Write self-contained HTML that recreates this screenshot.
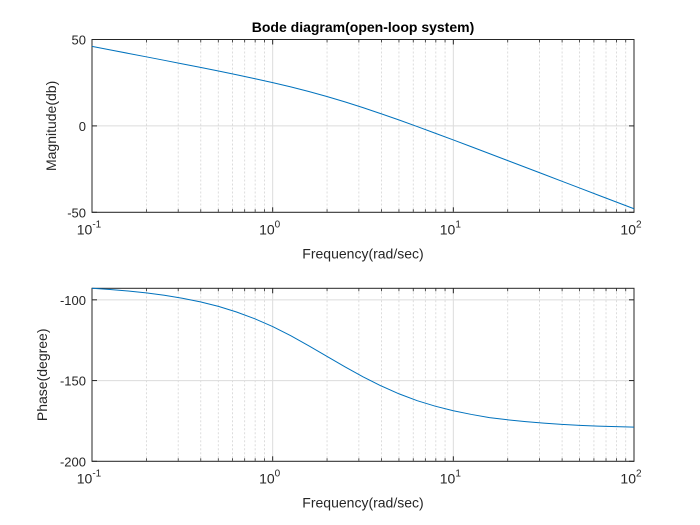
<!DOCTYPE html>
<html><head><meta charset="utf-8"><style>
body{margin:0;background:#fff;width:700px;height:525px;overflow:hidden}
svg{display:block;font-family:"Liberation Sans",Arial,sans-serif}
</style></head><body>
<svg id="c" width="700" height="525"></svg>
<script>
const freqs=[0.1,0.1259,0.1585,0.1995,0.2512,0.3162,0.3981,0.5012,0.631,0.7943,1,1.259,1.585,1.995,2.512,3.162,3.981,5.012,6.31,7.943,10,12.59,15.85,19.95,25.12,31.62,39.81,50.12,63.1,79.43,100];
const magDb=[46.01,44.00,41.99,39.98,37.95,35.91,33.85,31.75,29.61,27.38,25.05,22.57,19.90,17.01,13.89,10.58,7.05,3.40,-0.39,-4.25,-8.13,-12.07,-16.05,-20.02,-24.01,-27.98,-31.99,-35.99,-39.98,-43.98,-47.96];
const phaseDeg=[-92.86,-93.61,-94.53,-95.71,-97.16,-98.99,-101.25,-104.06,-107.55,-111.66,-116.57,-122.2,-128.45,-135,-141.5,-147.68,-153.3,-158.26,-162.45,-165.87,-168.69,-170.98,-172.93,-174.29,-175.45,-176.38,-177.12,-177.72,-178.19,-178.56,-178.85];
const magTicks=[50,0,-50];
const phaseTicks=[-100,-150,-200];
const xTickExp=[-1,0,1,2];

const svg=document.getElementById('c');
const NS='http://www.w3.org/2000/svg';
function el(t,a,p){const e=document.createElementNS(NS,t);for(const k in a)e.setAttribute(k,a[k]);(p||svg).appendChild(e);return e;}
const L=92,R=634;
const xs=w=>L+(Math.log10(w)+1)/3*(R-L);

function panel(name,top,bot,ymin,ymax,yt,data,ylabel){
  const g=el('g',{});
  
  
  const ys=v=>bot-(v-ymin)/(ymax-ymin)*(bot-top);
  for(let d=-1;d<2;d++)for(let m=2;m<10;m++){
    const x=xs(m*Math.pow(10,d));
    const ln=el('line',{x1:x,x2:x,y1:top,y2:bot,stroke:'#d4d4d4','stroke-width':0.8,'stroke-dasharray':'2,2'},g);
    
    
    el('line',{x1:x,x2:x,y1:bot,y2:bot-3,stroke:'#262626','stroke-width':0.8},g);
    el('line',{x1:x,x2:x,y1:top,y2:top+3,stroke:'#262626','stroke-width':0.8},g);
  }
  xTickExp.forEach(e=>{
    const x=xs(Math.pow(10,e));
    const ln=el('line',{x1:x,x2:x,y1:top,y2:bot,stroke:'#dcdcdc','stroke-width':1},g);
    
    
    el('line',{x1:x,x2:x,y1:bot,y2:bot-5,stroke:'#262626'},g);
    el('line',{x1:x,x2:x,y1:top,y2:top+5,stroke:'#262626'},g);
    const t=el('text',{x:x-3,y:bot+22,'font-size':14,fill:'#262626','text-anchor':'middle'},g);
    
    
    t.textContent='10';
    const s=el('tspan',{dy:-7,'font-size':10},t);s.textContent=String(e);
  });
  yt.forEach(v=>{
    const y=ys(v);
    el('line',{x1:L,x2:R,y1:y,y2:y,stroke:'#dcdcdc'},g);
    el('line',{x1:L,x2:L+5,y1:y,y2:y,stroke:'#262626'},g);
    el('line',{x1:R,x2:R-5,y1:y,y2:y,stroke:'#262626'},g);
    const t=el('text',{x:L-6,y:y+5,'font-size':13,fill:'#262626','text-anchor':'end'},g);
    
    
    t.textContent=String(v);
  });
  const fr=el('rect',{x:L,y:top,width:R-L,height:bot-top,fill:'none',stroke:'#262626','stroke-width':1},g);
  
  
  const pts=freqs.map((w,i)=>xs(w).toFixed(2)+','+ys(data[i]).toFixed(2)).join(' ');
  const pl=el('polyline',{points:pts,fill:'none',stroke:'#0072bd','stroke-width':1},g);
  
  
  const xl=el('text',{x:(L+R)/2,y:bot+46,'font-size':14,fill:'#262626','text-anchor':'middle'},g);
  
  
  xl.textContent='Frequency(rad/sec)';
  const cy=(top+bot)/2;
  const yl=el('text',{x:0,y:0,'font-size':14,fill:'#262626','text-anchor':'middle',transform:`translate(${ylabel[1]},${cy}) rotate(-90)`},g);
  
  
  yl.textContent=ylabel[0];
}
panel('magnitude-plot',39.5,212.3,-50,50,magTicks,magDb,['Magnitude(db)',56]);
panel('phase-plot',288.3,461.3,-200,-92.86,phaseTicks,phaseDeg,['Phase(degree)',47]);
const ti=el('text',{x:363,y:32,'font-size':14,'font-weight':'bold',fill:'#000','text-anchor':'middle'});


ti.textContent='Bode diagram(open-loop system)';
</script>
</body></html>
